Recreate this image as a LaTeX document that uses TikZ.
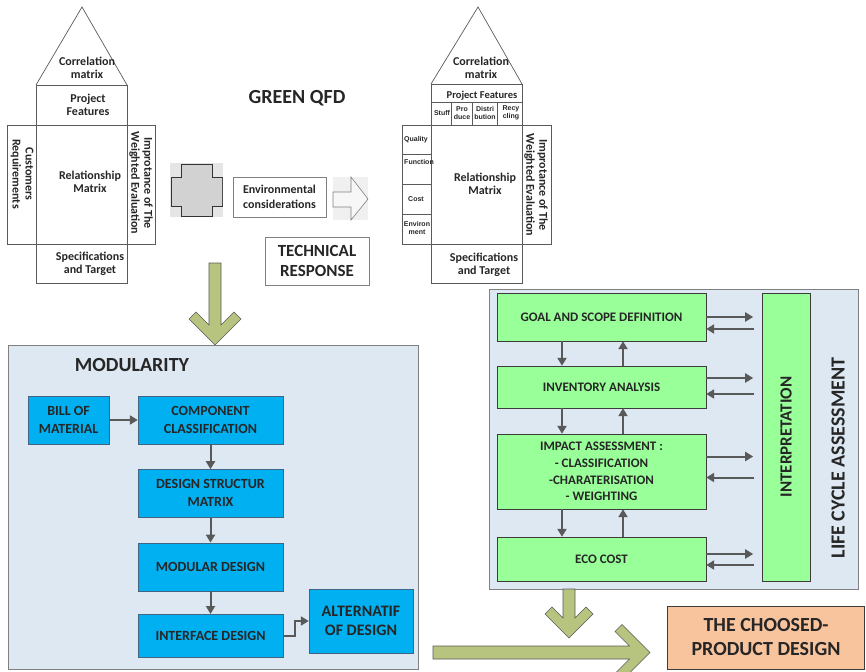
\documentclass[tikz,border=0pt]{standalone}
\usepackage{fontspec}
\setmainfont{Carlito}
\newfontfamily\arialfont{Liberation Sans}
\usepackage{tikz}
\usetikzlibrary{positioning}
\usetikzlibrary{calc}
\usetikzlibrary{arrows.meta}

\definecolor{txtdark}{RGB}{38,38,38}
\definecolor{houseedge}{RGB}{90,90,90}
\definecolor{panelfill}{RGB}{222,232,242}
\definecolor{modblue}{RGB}{0,176,240}
\definecolor{modedge}{RGB}{65,100,130}
\definecolor{lcagreen}{RGB}{153,255,153}
\definecolor{lcaedge}{RGB}{60,60,60}
\definecolor{fatgreen}{RGB}{183,196,127}
\definecolor{choosefill}{RGB}{248,196,158}
\definecolor{linkgray}{RGB}{89,89,89}

\begin{document}
\begin{tikzpicture}[x=1pt,y=-1pt,
  every node/.style={text=txtdark,font=\bfseries},
  houseline/.style={draw=houseedge,line width=0.7pt},
  housetxt/.style={font=\bfseries\fontsize{12}{13}\selectfont,align=center,inner sep=0pt},
  housesmall/.style={font=\arialfont\bfseries\fontsize{7}{7.5}\selectfont,align=center,inner sep=0pt},
  modbox/.style={draw=modedge,fill=modblue,align=center,font=\bfseries\fontsize{14}{18}\selectfont,minimum width=145pt,minimum height=48pt,inner sep=0pt},
  lcabox/.style={draw=lcaedge,fill=lcagreen,align=center,font=\bfseries\fontsize{13}{16.7}\selectfont,minimum width=209pt,inner sep=0pt},
  link/.style={draw=linkgray,line width=2pt,-{Triangle[length=8pt,width=9pt]}},
  fatarrow/.style={draw=gray!70!black,fill=fatgreen,line width=0.6pt},
  panel/.style={draw=gray,fill=panelfill,line width=0.8pt}]
  \useasboundingbox (0,0) rectangle (866,671);
  \clip (0,0) rectangle (866,671);

  %left house
  \draw[houseline] (36,85) -- (82,7) -- (127,85);
  \draw[houseline] (36,85) rectangle (127,283);
  \draw[houseline] (36,125) -- (127,125) (36,244) -- (127,244);
  \draw[houseline] (7,125) rectangle (36,244);
  \draw[houseline] (127,125) rectangle (155,244);
  \node[housetxt] (corrL) at (87,68) {Correlation\\matrix};
  \node[housetxt] (featL) at (88,105) {Project\\Features};
  \node[housetxt,rotate=-90] (custL) at (22,174) {Customers\\Requirements};
  \node[housetxt] (relL) at (90,182) {Relationship\\Matrix};
  \node[housetxt,rotate=-90] (impL) at (141,183) {Improtance of The\\Weighted Evaluation};
  \node[housetxt] (specL) at (90,264) {Specifications\\and Target};

  %right house
  \draw[houseline] (431,84) -- (478,7) -- (522,84);
  \draw[houseline] (431,84) rectangle (522,283);
  \draw[houseline] (431,102) -- (522,102) (431,125) -- (522,125) (431,244) -- (522,244);
  \foreach \xd in {451,472,497}
    \draw[houseline] (\xd,102) -- (\xd,125);
  \draw[houseline] (402,125) rectangle (431,244);
  \foreach \yd in {154,184,214}
    \draw[houseline] (402,\yd) -- (431,\yd);
  \draw[houseline] (522,125) rectangle (551,244);
  \node[housetxt] (corrR) at (481,68) {Correlation\\matrix};
  \node[housetxt,font=\bfseries\fontsize{10.5}{12}\selectfont] (featR) at (482,96) {Project Features};
  \node[housesmall] (stuff) at (442,113) {Stuff};
  \node[housesmall] (produce) at (462,113) {Pro\\duce};
  \node[housesmall] (distri) at (485,113) {Distri\\bution};
  \node[housesmall] (recy) at (511,113) {Recy\\cling};
  \node[housesmall] (quality) at (416,140) {Quality};
  \node[housesmall] (function) at (419,162) {Function};
  \node[housesmall] (cost) at (416,199) {Cost};
  \node[housesmall] (environ) at (417,228) {Environ\\ment};
  \node[housetxt] (relR) at (485,184) {Relationship\\Matrix};
  \node[housetxt,rotate=-90] (impR) at (536,185) {Improtance of The\\Weighted Evaluation};
  \node[housetxt] (specR) at (484,265) {Specifications\\and Target};

  %green qfd
  \node[font=\bfseries\fontsize{20}{24}\selectfont] (gqfd) at (297,98) {GREEN QFD};
  \fill[gray!20] (170,163) rectangle (223,217);
  \draw[draw=gray!40!black,fill=gray!35,line width=0.6pt] (181,164) -- (212,164) -- (212,177) -- (222,177)
    -- (222,206) -- (212,206) -- (212,216) -- (181,216) -- (181,206) -- (171,206) -- (171,177) -- (181,177) -- cycle;
  \draw[gray!60!black,line width=1.5pt] (222.5,178) -- (222.5,205);
  \node[draw=gray,fill=white,minimum width=93pt,minimum height=40pt,inner sep=0pt,align=center,
    font=\bfseries\fontsize{12}{15}\selectfont] (env) at (279.5,197) {Environmental\\considerations};
  \fill[gray!12] (333,177) rectangle (368,220);
  \draw[draw=gray,fill=white!94!gray,line width=0.6pt] (333,192) -- (351,192) -- (351,177) -- (368,199)
    -- (351,220) -- (351,207) -- (333,207) -- cycle;
  \node[draw=gray,fill=white,minimum width=104pt,minimum height=48pt,inner sep=0pt,align=center,
    font=\bfseries\fontsize{17}{20}\selectfont] (tech) at (317,261) {TECHNICAL\\RESPONSE};

  %modularity
  \draw[fatarrow] (209,263) -- (221,263) -- (221,325) -- (234,312) -- (241,319) -- (215,345)
    -- (189,319) -- (196,312) -- (209,325) -- cycle;
  \draw[panel] (8,345) rectangle (418,669);
  \node[font=\bfseries\fontsize{20}{24}\selectfont] (modtitle) at (132,365) {MODULARITY};
  \node[modbox,minimum width=81pt] (bom) at (68.5,420) {BILL OF\\MATERIAL};
  \node[modbox] (comp) at (210.5,420) {COMPONENT\\CLASSIFICATION};
  \node[modbox,below=25pt of comp] (dsm) {DESIGN STRUCTUR\\MATRIX};
  \node[modbox,below=25pt of dsm] (moddes) {MODULAR DESIGN};
  \node[modbox,minimum height=43pt,below=23pt of moddes] (intdes) {INTERFACE DESIGN};
  \node[modbox,minimum width=104pt,minimum height=64pt,font=\bfseries\fontsize{16}{19}\selectfont] (alt) at (361,621) {ALTERNATIF\\OF DESIGN};
  \draw[link] (bom) -- (comp);
  \draw[link] (comp) -- (dsm);
  \draw[link] (dsm) -- (moddes);
  \draw[link] (moddes) -- (intdes);
  \draw[link] (intdes.east) -- ++(12,0) |- (alt.west);

  %life cycle assessment
  \draw[panel] (489,289) rectangle (858,589);
  \node[lcabox,minimum height=48pt] (goal) at (601.5,317) {GOAL AND SCOPE DEFINITION};
  \node[lcabox,minimum height=42pt] (inv) at (601.5,387) {INVENTORY ANALYSIS};
  \node[lcabox,minimum height=75pt] (impact) at (601.5,471.5) {IMPACT ASSESSMENT :\\- CLASSIFICATION\\-CHARATERISATION\\- WEIGHTING};
  \node[lcabox,minimum height=44pt] (eco) at (601.5,559) {ECO COST};
  \node[lcabox,rotate=90,minimum width=288pt,minimum height=48pt,font=\bfseries\fontsize{17}{20}\selectfont] (interp) at (786,437) {INTERPRETATION};
  \node[rotate=90,font=\bfseries\fontsize{20}{24}\selectfont] (lcatitle) at (838,458) {LIFE CYCLE ASSESSMENT};
  \foreach \a/\b in {goal/inv,inv/impact,impact/eco}{
    \draw[link] ([xshift=-39.5pt]\a.south) -- ([xshift=-39.5pt]\b.north);
    \draw[link] ([xshift=21.5pt]\b.north) -- ([xshift=21.5pt]\a.south);
  }
  \foreach \b/\r/\l in {goal/0/12,inv/-9/7,impact/-15/6,eco/-5/6}{
    \draw[link] ($(\b.east)+(0,\r)$) -- ++(47,0);
    \draw[link] ($(\b.east)+(48,\l)$) -- ++(-48,0);
  }

  %choosed design
  \draw[fatarrow] (563,589) -- (575,589) -- (575,618) -- (586,607) -- (593,614) -- (569,638)
    -- (545,614) -- (552,607) -- (563,618) -- cycle;
  \draw[fatarrow] (433,646) -- (629.5,646) -- (615,631.5) -- (622,624.5) -- (650,652.5) -- (622,680.5)
    -- (615,673.5) -- (629.5,659) -- (433,659) -- cycle;
  \node[draw=lcaedge,fill=choosefill,minimum width=197pt,minimum height=63pt,align=center,
    font=\bfseries\fontsize{20}{24}\selectfont] (choose) at (766,637.5) {THE CHOOSED-\\PRODUCT DESIGN};
\end{tikzpicture}
\end{document}
